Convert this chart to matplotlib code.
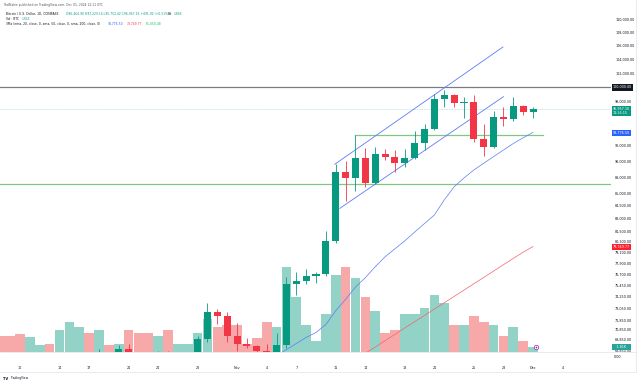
"""
Recréation d'un graphique TradingView BTC/USD journalier (Coinbase)
Bougies, volume, moyennes mobiles, canal haussier
"""

import matplotlib
matplotlib.use("Agg")
import matplotlib.pyplot as plt
from matplotlib.ticker import NullLocator
from matplotlib.lines import Line2D

# Jours : 0 = 8 octobre 2024 ... 54 = 1er décembre 2024
opens = [62200, 62150, 60600, 60300, 62400, 63200, 62850, 66050, 67050, 67600,
         67400, 68400, 68350, 69000, 67350, 67300, 66650, 68150, 66600, 67000,
         67950, 69900, 72700, 72300,
         70200, 69450, 69300, 68750, 67800, 69350, 75600, 75900, 76500, 76700,
         80400, 88700, 87950, 90400, 87250, 90950, 90550, 89800, 90450, 92300,
         94250, 98350, 98900, 97700, 97900, 92850, 91850, 95800, 95550, 97350,
         96464.90]
highs = [63200, 62500, 61300, 63400, 63450, 63300, 66500, 67900, 68400, 67950,
         68950, 68700, 69400, 69500, 67850, 67450, 68800, 68750, 67300, 68300,
         70250, 73600, 72950, 72700,
         71600, 70000, 69400, 69450, 70500, 76400, 76950, 77200, 76900, 81500,
         89600, 90000, 93400, 91700, 91900, 91550, 91400, 91600, 94000, 94950,
         98950, 99600, 98950, 98550, 98900, 94900, 96600, 97150, 98650, 97500,
         97229.14]
lows = [61850, 60300, 58900, 60100, 62350, 62050, 62450, 64800, 66750, 66650,
        67100, 68050, 68100, 66600, 66550, 65200, 66450, 65500, 66550, 66800,
        67500, 69700, 71450, 69700,
        68800, 69050, 67450, 66800, 67450, 69050, 74450, 75600, 75700, 76500,
        80200, 85100, 86250, 86750, 87100, 90150, 88700, 89300, 90300, 91500,
        94100, 97150, 97200, 95750, 92550, 90700, 91700, 94600, 95350, 96100,
        95752.42]
closes = [62150, 60600, 60300, 62400, 63200, 62850, 66050, 67050, 67600, 67400,
          68400, 68350, 69000, 67350, 67300, 66650, 68150, 66600, 67000, 67950,
          69900, 72700, 72300, 70200,
          69450, 69300, 68750, 67800, 69350, 75600, 75900, 76500, 76700, 80400,
          88700, 87950, 90400, 87250, 90950, 90550, 89800, 90450, 92300, 94250,
          98350, 98900, 97700, 97900, 92850, 91850, 95800, 95550, 97350, 96450,
          96957.16]
# volume en milliers de BTC
volumes = [6, 6, 6.5, 5.5, 2.5, 3, 8, 11, 9, 7,
           8, 2.5, 3, 8, 7, 7, 6, 8, 3, 3,
           7, 12, 9, 10,
           10, 3, 5, 11, 9, 31, 20, 10, 4, 14,
           28, 31, 27, 20, 15, 7, 8, 14, 14, 16,
           21, 18, 10, 10, 13, 11, 10, 6, 9, 4,
           1.81]

# EMA 20 (bleu), du 5 nov (jour 28) au 1er déc
ema_debut = 28
ema20 = [68300, 68900, 69500, 70100, 70600, 71400, 72800, 74000, 75300, 76300,
         77500, 78600, 79500, 80400, 81400, 82400, 83400, 85200, 86800, 87900,
         88900, 89750, 90600, 91450, 92300, 93050, 93776.50]
# SMA 50 (rouge), du 12 nov (jour 35) au 1er déc
sma_debut = 35
sma50 = [67320, 67920, 68550, 69150, 69780, 70410, 71050, 71690, 72330, 72990,
         73640, 74300, 74970, 75650, 76330, 77020, 77720, 78420, 79120, 79749.77]

# canal haussier (jour, prix)
canal_haut = [(33.9, 89620), (50.95, 105840)]
canal_bas = [(34.4, 84180), (51.0, 98640)]

x_jours = [2, 6, 9, 13, 16, 20, 24, 27, 30, 34, 37, 41, 44, 48, 51, 54, 57]
x_labels = ["10", "14", "17", "21", "24", "28", "Nov", "4", "7", "11", "14",
            "18", "21", "25", "28", "Dec", "4"]
prix_ticks = [110000, 108000, 106000, 104000, 102000, 98000, 92000, 90000,
              88000, 86000, 84500, 83000, 81500, 80300, 79100, 77900, 76700,
              75450, 74250, 73050, 71850, 70850, 69850, 68850]

UP = "#089981"
DOWN = "#f23645"
UP_VOL = "#92d2c7"
DOWN_VOL = "#f7a9a9"
TEXTE = "#131722"

W, H = 640, 384


def px(x, y, w, h):
    """rectangle en pixels (origine en haut à gauche) -> coordonnées figure"""
    return [x / W, 1 - (y + h) / H, w / W, h / H]


def tracer():
    fig = plt.figure(figsize=(6.4, 3.84), dpi=100)
    fig.patch.set_facecolor("white")

    rect = px(0, 10, 611, 342)
    axv = fig.add_axes(rect, zorder=0)
    ax = fig.add_axes(rect, zorder=1)
    ax.patch.set_alpha(0)

    xmin, xmax = -0.03, 61.9
    n = len(closes)
    jours = list(range(n))

    # volume
    couleurs_vol = [UP_VOL if closes[i] >= opens[i] else DOWN_VOL for i in jours]
    axv.bar(jours, volumes, width=0.98, color=couleurs_vol, linewidth=0)
    axv.set_xlim(xmin, xmax)
    axv.set_ylim(0, 125)
    axv.axis("off")

    # lignes horizontales
    ax.axhline(100000, color="#787b86", lw=0.9, zorder=1)
    ax.axhline(87150, color="#81c784", lw=0.9, zorder=1)
    ax.plot([36, 55], [93400, 93400], color="#81c784", lw=0.9, zorder=1)
    ax.axhline(closes[-1], color="#b2dfdb", lw=0.6, ls=(0, (1, 1)), zorder=1)

    # canal
    for seg in (canal_haut, canal_bas):
        ax.plot([p[0] for p in seg], [p[1] for p in seg], color="#5b7cf6", lw=0.6, zorder=2)

    # moyennes mobiles
    ax.plot(range(ema_debut, ema_debut + len(ema20)), ema20, color="#5b7cf6", lw=0.5, zorder=2)
    ax.plot(range(sma_debut, sma_debut + len(sma50)), sma50, color="#f0656b", lw=0.5, zorder=2)

    # bougies
    for i in jours:
        c = UP if closes[i] >= opens[i] else DOWN
        ax.vlines(i, lows[i], highs[i], color=c, lw=0.6, zorder=3)
        bas = min(opens[i], closes[i])
        haut = max(opens[i], closes[i])
        if haut - bas < 60:
            haut = bas + 60
        ax.bar(i, haut - bas, bottom=bas, width=0.72, color=c, linewidth=0, zorder=4)

    ax.set_yscale("log")
    ax.set_ylim(68670, 111540)
    ax.set_xlim(xmin, xmax)
    for s in ax.spines.values():
        s.set_visible(False)

    ax.yaxis.tick_right()
    ax.yaxis.set_minor_locator(NullLocator())
    ax.set_yticks(prix_ticks)
    ax.set_yticklabels([f"{v:,.2f}" for v in prix_ticks])
    ax.tick_params(axis="y", length=0, pad=3, labelsize=2.4, labelcolor=TEXTE)
    ax.set_xticks(x_jours)
    ax.set_xticklabels(x_labels)
    ax.tick_params(axis="x", length=0, pad=10.2, labelsize=2.4, labelcolor=TEXTE)

    # étiquettes de prix à droite
    def etiquette(y_pix, texte, fond, couleur="white"):
        fig.text(613 / W, 1 - y_pix / H, texte, fontsize=2.4, color=couleur,
                 va="center", ha="left",
                 bbox=dict(boxstyle="square,pad=0.35", fc=fond, ec="none"))

    etiquette(87.5, "100,000.00", TEXTE)
    etiquette(111, "96,957.16\n11:26:15", UP)
    etiquette(133.3, "93,776.50", "#2962ff")
    etiquette(246.7, "79,749.77", "#ff1f2d")
    etiquette(346.7, "   1.81K   ", "#26a69a")
    fig.text(614 / W, 1 - 357.3 / H, "0.00", fontsize=2.4, color=TEXTE, va="center")

    # petite icône d'événement
    ax.plot([54.3], [69200], marker="o", ms=3.2, mfc="white", mec="#9c27b0", mew=0.5, zorder=5)
    ax.plot([54.3], [69200], marker="+", ms=1.8, mec="#9c27b0", mew=0.4, zorder=6)

    # bordures
    fig.add_artist(Line2D([0, 636 / W], [1 - 352 / H] * 2, color="#e0e3eb", lw=0.5))
    fig.add_artist(Line2D([0, 636 / W], [1 - 372.3 / H] * 2, color="#e0e3eb", lw=0.5))
    fig.add_artist(Line2D([636 / W] * 2, [1 - 372.3 / H, 1], color="#e0e3eb", lw=0.5))

    # en-tête
    def ligne(x_pix, y_pix, texte, couleur="#555", taille=2.2, **kw):
        fig.text(x_pix / W, 1 - y_pix / H, texte, fontsize=taille, color=couleur,
                 va="center", ha="left", **kw)

    ligne(3, 5, "TheBlakie published on TradingView.com, Dec 01, 2024 12:11 UTC")
    ligne(6, 14.3, "Bitcoin / U.S. Dollar, 1D, COINBASE", TEXTE)
    ligne(65.5, 14.3, "O96,464.90 H97,229.14 L95,752.42 C96,957.16 +491.92 (+0.51%)", UP)
    ligne(167.5, 14.3, "Vol", TEXTE)
    ligne(173.5, 14.3, "1.81K", UP)
    ligne(6, 19, "Vol · BTC", TEXTE)
    ligne(22, 19, "1.81K", "#26a69a")
    ligne(6, 24.3, "3Ma (ema, 20, close, 0, sma, 50, close, 0, sma, 200, close, 0)", TEXTE)
    ligne(107.5, 24.3, "93,776.50", "#2962ff")
    ligne(127, 24.3, "79,749.77", "#f23645")
    ligne(146, 24.3, "61,050.48", "#00c853")

    # logo
    ligne(3, 378.5, "TV", TEXTE, taille=2.6, fontweight="bold")
    ligne(10, 378.5, "TradingView", TEXTE)

    fig.savefig("out.png", dpi=100, facecolor="white")


if __name__ == "__main__":
    tracer()
